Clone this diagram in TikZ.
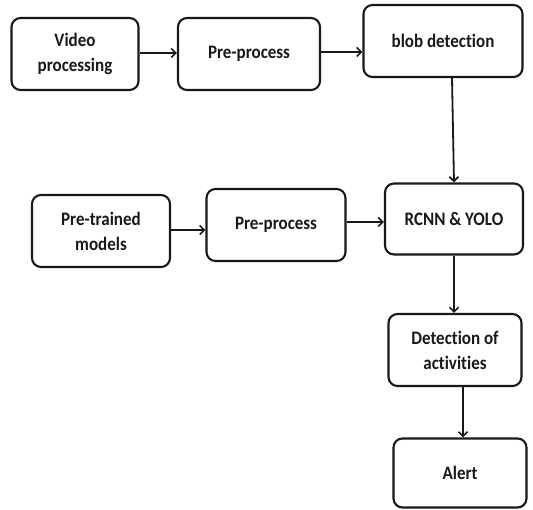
\documentclass[tikz,border=0pt]{standalone}
\usepackage{fontspec}
\setmainfont[Ligatures=NoCommon]{Carlito}
\usetikzlibrary{arrows.meta}
\begin{document}
\begin{tikzpicture}[x=1pt,y=-1pt,
  box/.style={draw=black!90,line width=2.1pt,rounded corners=9pt,inner sep=0pt,
    align=center,font=\bfseries\fontsize{17}{25}\selectfont,text=black!90},
  arr/.style={line width=1.8pt,draw=black!90,-{Straight Barb[length=4.5pt,width=9pt,line width=1.7pt]}}]
\useasboundingbox (0,0) rectangle (533,510);
\node[box,minimum width=127pt,minimum height=72pt] (v) at (75,54) {\scalebox{1}[1.12]{Video}\\\scalebox{1}[1.12]{processing}};
\node[box,minimum width=142pt,minimum height=72pt] (p1) at (249,54) {\scalebox{1}[1.12]{Pre-process}};
\node[box,minimum width=159pt,minimum height=72pt] (b) at (443,41) {\scalebox{1}[1.12]{blob detection}};
\node[box,minimum width=138pt,minimum height=72pt] (pt) at (101,231) {\scalebox{1}[1.12]{Pre-trained}\\\scalebox{1}[1.12]{models}};
\node[box,minimum width=139pt,minimum height=72pt] (p2) at (276,225) {\scalebox{1}[1.12]{Pre-process}};
\node[box,minimum width=138pt,minimum height=71pt] (r) at (454,219) {\scalebox{1}[1.12]{RCNN \& YOLO}};
\node[box,minimum width=133pt,minimum height=72pt] (d) at (455,350) {\scalebox{1}[1.12]{Detection of}\\\scalebox{1}[1.12]{activities}};
\node[box,minimum width=133pt,minimum height=69pt] (a) at (460,473) {\scalebox{1}[1.12]{Alert}};
\draw[arr] (v.east |- 0,53) -- (p1.west |- 0,53);
\draw[arr] (p1.east |- 0,52) -- (b.west |- 0,52);
\draw[arr] (b.south -| 452,0) -- (r.north -| 454,0);
\draw[arr] (pt.east |- 0,230) -- (p2.west |- 0,230);
\draw[arr] (p2.east |- 0,222) -- (r.west |- 0,222);
\draw[arr] (r.south -| 454,0) -- (d.north -| 454,0);
\draw[arr] (d.south -| 463,0) -- (a.north -| 463,0);
\end{tikzpicture}
\end{document}
